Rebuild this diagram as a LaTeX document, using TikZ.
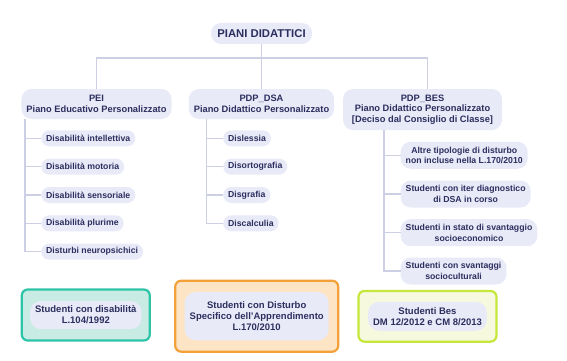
\documentclass[tikz,border=0pt]{standalone}
\usepackage{fontspec}
\setmainfont{Liberation Sans}
\usepackage{xcolor}
\usetikzlibrary{positioning}
\definecolor{inkc}{HTML}{2C2E5E}
\definecolor{pillc}{HTML}{E9EAF8}
\definecolor{linec}{HTML}{CDD0E4}
\definecolor{tealc}{HTML}{2EC4A8}
\definecolor{tealbg}{HTML}{C8EBE3}
\definecolor{orc}{HTML}{F5A13A}
\definecolor{orbg}{HTML}{FDE4C4}
\definecolor{limec}{HTML}{C5E63A}
\definecolor{limebg}{HTML}{F6F9DE}
\tikzset{
  pill/.style={fill=pillc,text=inkc,align=center,inner xsep=5pt,inner ysep=2pt,
    font=\bfseries\fontsize{8.7}{10.6}\selectfont,rounded corners=8pt,minimum height=16pt},
  head/.style={pill,font=\bfseries\fontsize{9.3}{10.5}\selectfont,rounded corners=10pt},
  link/.style={draw=linec,line width=1.2pt},
  frame/.style={line width=2.2pt,rounded corners=6pt},
  lawt/.style={pill,font=\bfseries\fontsize{9.5}{11}\selectfont,rounded corners=11pt}
}
\begin{document}
\begin{tikzpicture}[x=1pt,y=-1pt]
\useasboundingbox (0,0) rectangle (567,361);
% radice e piani
\node[head,font=\bfseries\fontsize{11.3}{13}\selectfont,minimum width=101pt,minimum height=21pt] (top) at (261.5,33.5) {PIANI DIDATTICI};
\node[head,minimum width=149pt,minimum height=30pt] (pei) at (96.5,104) {PEI\\Piano Educativo Personalizzato};
\node[head,minimum width=144pt,minimum height=30pt] (dsa) at (261.5,104) {PDP\_DSA\\Piano Didattico Personalizzato};
\node[head,minimum width=159pt,minimum height=41pt] (bes) at (422.5,109.5) {PDP\_BES\\Piano Didattico Personalizzato\\{}[Deciso dal Consiglio di Classe]};
\coordinate (bus) at (261.5,58);
\draw[link] (top.south) -- (bus);
\draw[link] (pei.north) |- (bus) -| ([xshift=5pt]bes.north);
\draw[link] (bus) -- (dsa.north);
% voci PEI
\coordinate (peiline) at (25,119);
\foreach \name/\y/\txt in {p1/138.3/Disabilità intellettiva,p2/166.7/Disabilità motoria,
  p3/195/Disabilità sensoriale,p4/223.3/Disabilità plurime,p5/251.7/Disturbi neuropsichici}{
  \node[pill,anchor=west] (\name) at (41,\y) {\txt};
  \draw[link] (peiline) |- (\name.west);
}
% voci DSA
\coordinate (dsaline) at (206.7,119);
\foreach \name/\y/\txt in {d1/138.3/Dislessia,d2/166.7/Disortografia,d3/195/Disgrafia,d4/223.3/Discalculia}{
  \node[pill,anchor=west] (\name) at (223,\y) {\txt};
  \draw[link] (dsaline) |- (\name.west);
}
% voci BES
\coordinate (besline) at (384,130);
\foreach \name/\y/\txt in {b1/155.3/{Altre tipologie di disturbo\\non incluse nella L.170/2010},
  b2/194/{Studenti con iter diagnostico\\di DSA in corso},
  b3/232.7/{Studenti in stato di svantaggio\\socioeconomico},
  b4/271/{Studenti con svantaggi\\socioculturali}}{
  \node[pill,anchor=west,minimum height=27pt,rounded corners=10pt] (\name) at (400.5,\y) {\txt};
  \draw[link] (besline) |- (\name.west);
}
% riquadri normativi
\node[frame,draw=tealc,fill=tealbg,minimum width=128pt,minimum height=51pt] (law1) at (85.8,315) {};
\node[lawt,minimum width=110pt,minimum height=28.3pt] (law1t) at (law1) {Studenti con disabilità\\L.104/1992};
\node[frame,draw=orc,fill=orbg,minimum width=163pt,minimum height=71pt] (law2) at (256.7,316.2) {};
\node[lawt,minimum width=143pt,minimum height=48.3pt] (law2t) at (law2) {Studenti con Disturbo\\Specifico dell'Apprendimento\\L.170/2010};
\node[frame,draw=limec,fill=limebg,minimum width=138pt,minimum height=50.7pt] (law3) at (427.5,316.3) {};
\node[lawt,minimum width=118pt,minimum height=29pt] (law3t) at (law3) {Studenti Bes\\DM 12/2012 e CM 8/2013};
\end{tikzpicture}
\end{document}
